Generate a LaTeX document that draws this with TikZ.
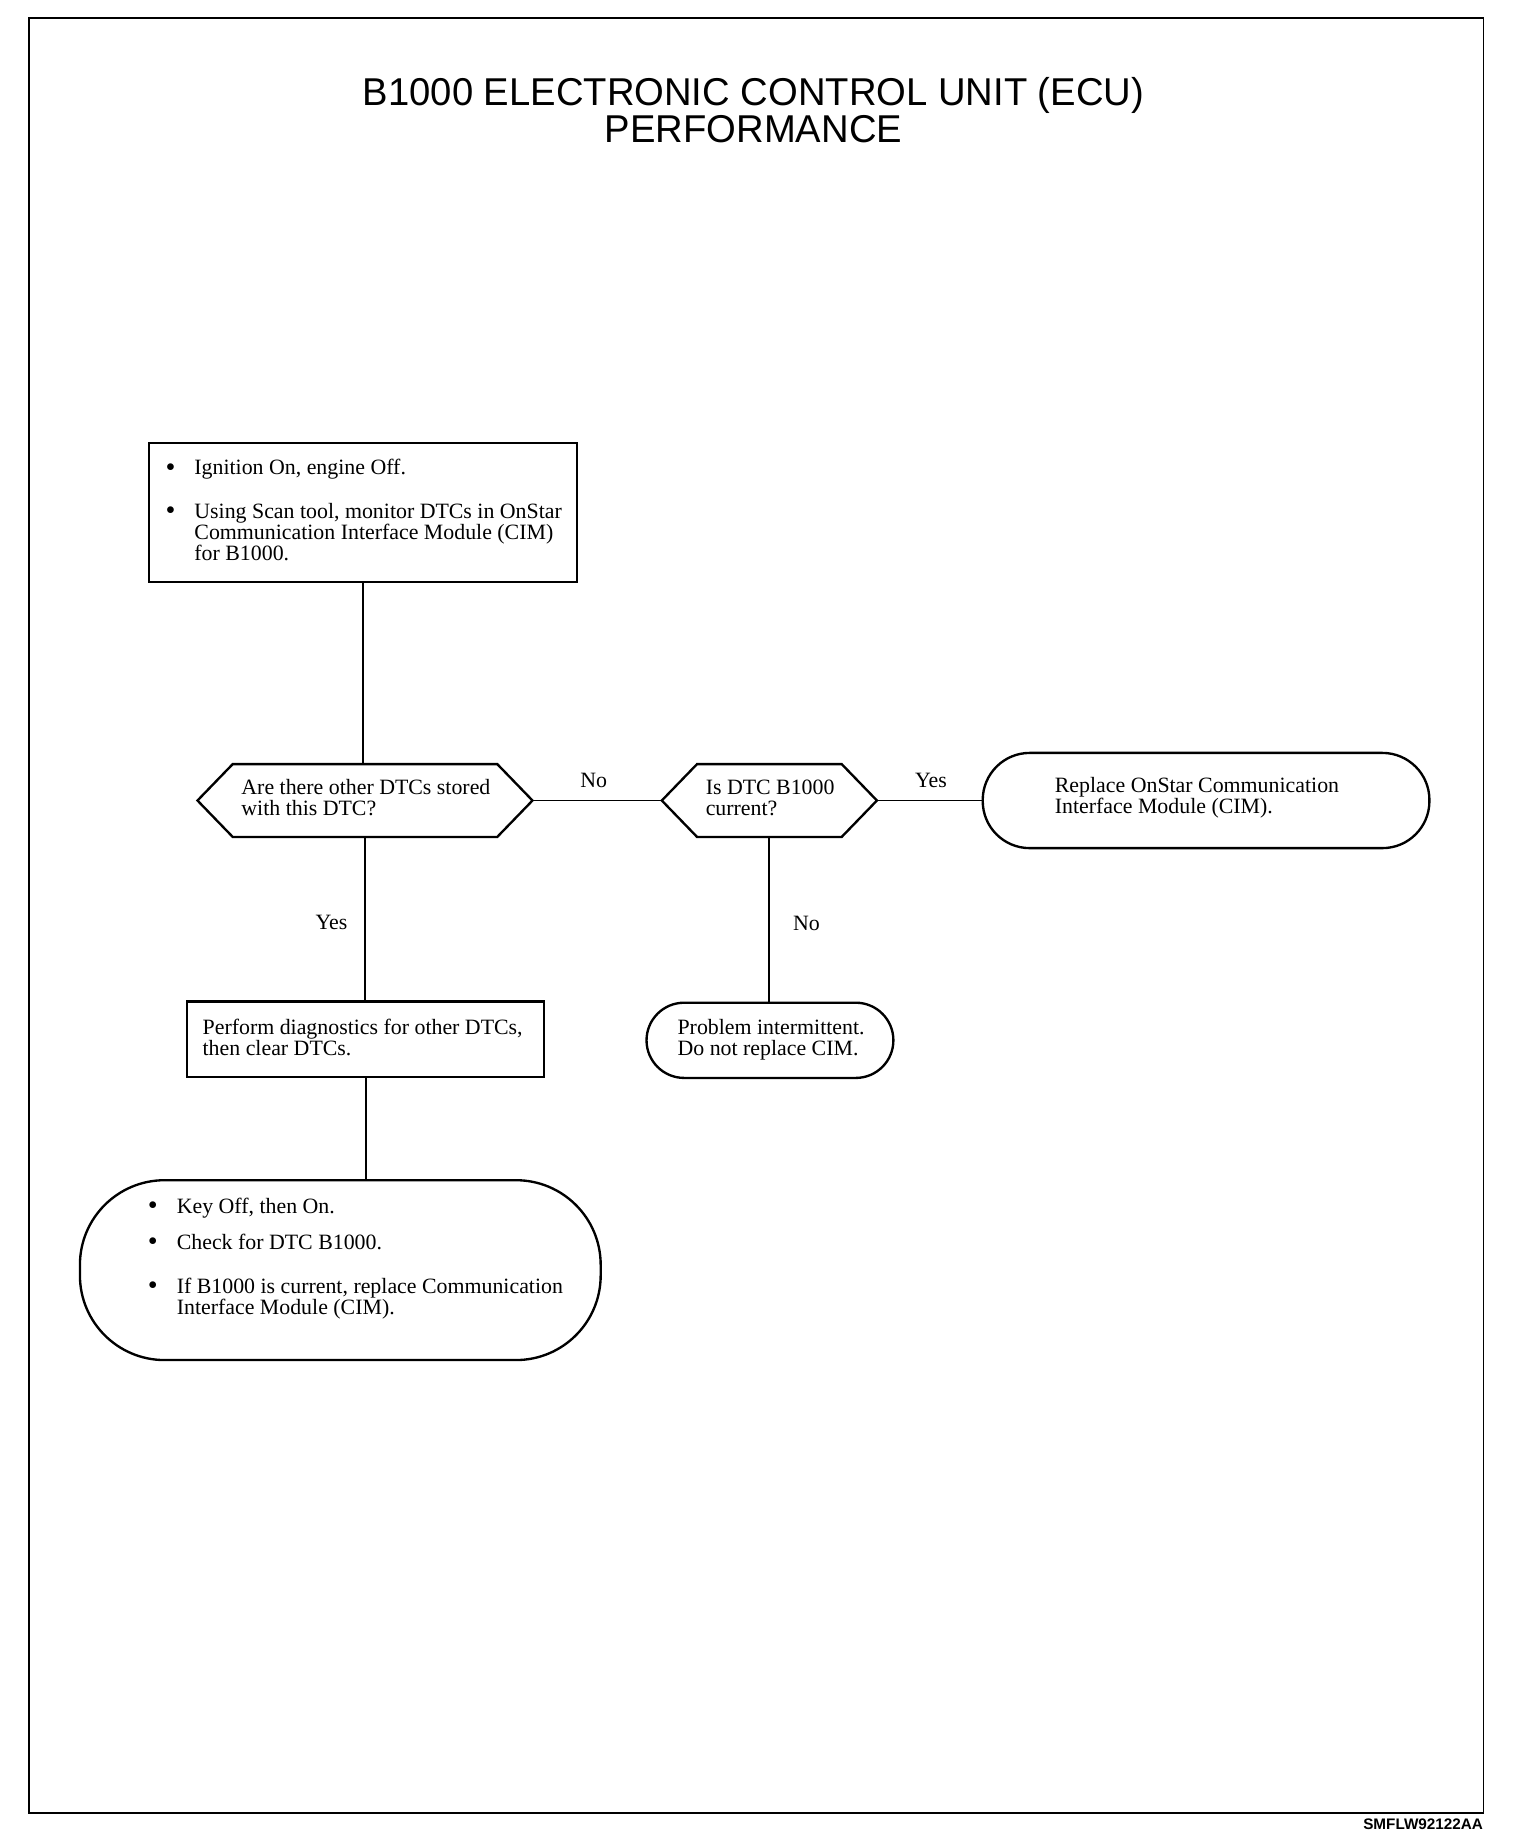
\documentclass[tikz,border=0pt]{standalone}
\usepackage{fontspec}
\setmainfont{Liberation Serif}
\newfontfamily\titlefont{Liberation Sans}
\begin{document}
\begin{tikzpicture}[x=0.5pt,y=-0.5pt,
  shp/.style={draw=black,line width=1pt,inner sep=0pt,outer sep=0pt},
  boxshape/.style={shp,rectangle},
  termshape/.style={shp,rectangle},
  decshape/.style={rectangle,draw=none,inner sep=0pt,outer sep=0pt},
  hexline/.style={draw=black,line width=1pt},
  conn/.style={draw=black,line width=0.8pt},
  txt/.style={anchor=base west,inner sep=0pt,font=\fontsize{9.3}{9.3}\selectfont},
  bul/.style={anchor=base,inner sep=0pt,font=\fontsize{12}{12}\selectfont},
  lbl/.style={inner sep=0pt,font=\fontsize{9.3}{9.3}\selectfont},
  ttl/.style={inner sep=0pt,xscale=0.985,font=\titlefont\fontsize{16.5}{16.5}\selectfont},
]
\useasboundingbox (0,0) rectangle (1306.5,1567);
% frame
\draw[line width=0.8pt] (25,15) rectangle (1262,1542);
% title
\node[ttl,anchor=base] (t1) at (641,90) {B1000 ELECTRONIC CONTROL UNIT (ECU)};
\node[ttl,anchor=base] (t2) at (641,121) {PERFORMANCE};
% shapes
\node[boxshape,minimum width=182pt,minimum height=59pt] (box1) at (309,436) {};
\node[decshape,minimum width=142.5pt,minimum height=31pt] (d1) at (310.5,681) {};
\node[decshape,minimum width=91.5pt,minimum height=31pt] (d2) at (654.5,681) {};
\node[termshape,rounded corners=20pt,minimum width=190pt,minimum height=40.5pt] (term1) at (1026,681) {};
\node[termshape,rounded corners=16pt,minimum width=105pt,minimum height=32pt] (term2) at (655,885) {};
\node[boxshape,minimum width=152pt,minimum height=32pt] (box2) at (311,884) {};
\node[termshape,rounded corners=36pt,minimum width=221.5pt,minimum height=76.5pt] (term3) at (289.5,1080.5) {};
% hexagons
\draw[hexline] (d1.west) -- ([xshift=15pt]d1.north west) -- ([xshift=-15pt]d1.north east) -- (d1.east) -- ([xshift=-15pt]d1.south east) -- ([xshift=15pt]d1.south west) -- cycle;
\draw[hexline] (d2.west) -- ([xshift=15pt]d2.north west) -- ([xshift=-15pt]d2.north east) -- (d2.east) -- ([xshift=-15pt]d2.south east) -- ([xshift=15pt]d2.south west) -- cycle;
% connectors
\draw[conn] (box1.south) -- (box1.south |- d1.north);
\draw[conn] (d1.east) -- (d2.west);
\draw[conn] (d2.east) -- (term1.west);
\draw[conn] (d2.south) -- (d2.south |- term2.north);
\draw[conn] (d1.south) -- (d1.south |- box2.north);
\draw[conn] (box2.south) -- (box2.south |- term3.north);
% labels
\node[lbl] (lno1) at (505,664) {No};
\node[lbl] (lyes1) at (792,664) {Yes};
\node[lbl] (lyes2) at (282,785) {Yes};
\node[lbl] (lno2) at (686,786) {No};
% box1 text
\node[bul] (b1a) at (145,405) {•};
\node[txt] (x1a) at (165,404) {Ignition On, engine Off.};
\node[bul] (b1b) at (145,442) {•};
\node[txt] (x1b) at (165,441) {Using Scan tool, monitor DTCs in OnStar};
\node[txt] (x1c) at (165,459) {Communication Interface Module (CIM)};
\node[txt] (x1d) at (165,477) {for B1000.};
% d1 text
\node[txt] (xd1a) at (205,676) {Are there other DTCs stored};
\node[txt] (xd1b) at (205,694) {with this DTC?};
% d2 text
\node[txt] (xd2a) at (600,676) {Is DTC B1000};
\node[txt] (xd2b) at (600,694) {current?};
% term1 text
\node[txt] (xt1a) at (897,674) {Replace OnStar Communication};
\node[txt] (xt1b) at (897,692) {Interface Module (CIM).};
% term2 text
\node[txt] (xt2a) at (576,880) {Problem intermittent.};
\node[txt] (xt2b) at (576,898) {Do not replace CIM.};
% box2 text
\node[txt] (xb2a) at (172,880) {Perform diagnostics for other DTCs,};
\node[txt] (xb2b) at (172,898) {then clear DTCs.};
% term3 text
\node[bul] (b3a) at (130,1033) {•};
\node[txt] (x3a) at (150,1032) {Key Off, then On.};
\node[bul] (b3b) at (130,1064) {•};
\node[txt] (x3b) at (150,1063) {Check for DTC B1000.};
\node[bul] (b3c) at (130,1101) {•};
\node[txt] (x3c) at (150,1100) {If B1000 is current, replace Communication};
\node[txt] (x3d) at (150,1118) {Interface Module (CIM).};
% footer
\node[inner sep=0pt,anchor=east,font=\titlefont\bfseries\fontsize{6.5}{6.5}\selectfont] (foot) at (1262,1552) {SMFLW92122AA};
\end{tikzpicture}
\end{document}
